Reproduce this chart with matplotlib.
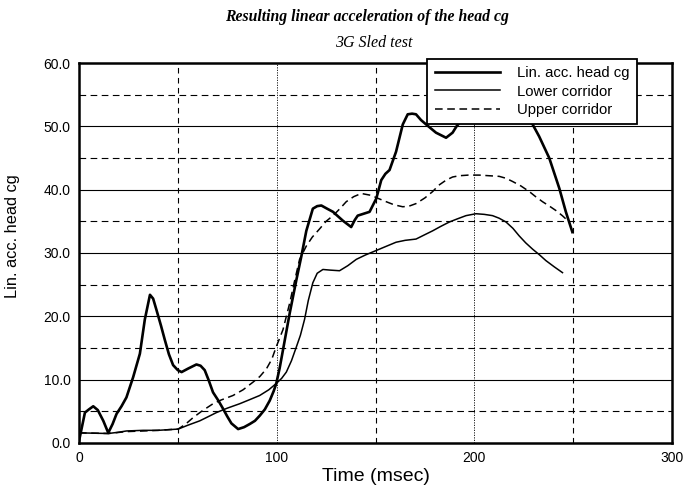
import matplotlib
matplotlib.use("Agg")
import matplotlib.pyplot as plt
from matplotlib.ticker import FormatStrFormatter

# ---- data ----
head_t = [0, 1, 3, 5, 7.2, 9.5, 12.3, 14.8, 17, 19, 21.5, 24, 27.4, 30.8, 33.3,
          35.9, 37.5, 39.2, 41.5, 43.4, 45.5, 47.6, 50, 51.9, 55.2, 59.4, 61.5,
          63.6, 65.5, 67.8, 70.5, 72.9, 75, 77.1, 80.5, 83.5, 86.4, 89, 91.4, 94,
          96.5, 98.5, 99.8, 101.5, 103.2, 106.6, 110, 112.5, 115, 118.3, 120.5,
          122.6, 125.5, 128.5, 133.5, 137.7, 139.5, 141, 144, 147, 150.4, 152.9,
          155, 157.1, 160.4, 163.8, 166.3, 168.5, 170.5, 173, 175.6, 180.6, 185.7,
          189, 191, 195, 200, 210, 220, 226, 229.5, 232.8, 237.9, 243, 246.3, 249.6]
head_v = [0.3, 1.8, 4.8, 5.3, 5.8, 5.2, 3.5, 1.6, 3.0, 4.6, 5.8, 7.2, 10.4, 14.1, 19.5,
          23.4, 22.8, 21.0, 18.5, 16.3, 14.0, 12.3, 11.5, 11.2, 11.75, 12.4, 12.2,
          11.5, 10.0, 8.0, 6.7, 5.4, 4.2, 3.1, 2.2, 2.5, 3.0, 3.5, 4.3, 5.3,
          6.7, 8.2, 9.4, 11.8, 14.7, 20.5, 25.8, 29.5, 33.5, 37.0, 37.4,
          37.5, 37.0, 36.5, 35.1, 34.1, 35.2, 35.9, 36.2, 36.5, 38.6, 41.5,
          42.5, 43.1, 46.0, 50.3, 51.9, 52.0, 51.9, 51.0, 50.3, 49.0, 48.2,
          49.0, 50.0, 51.5, 52.5, 53.0, 52.5, 51.5, 50.3, 48.4, 45.0, 40.2, 36.5, 33.3]

upper_t = [0, 15, 24, 32.5, 40, 50.2, 54, 57.7, 62, 67.8, 72, 77.9, 83, 88, 91.5,
           94.8, 97.5, 99.8, 103.2, 106.6, 109, 111.6, 115, 118, 121.7, 125, 128.5,
           132, 135.2, 139, 142.8, 147.8, 151.5, 155.4, 159.5, 163.8, 167, 170.5,
           175, 178.9, 182, 185.7, 189, 192.4, 197, 202.5, 207.5, 212.6, 216, 219.3,
           223.5, 227.8, 231, 234.5, 238, 241.3, 244.5, 248]
upper_v = [1.6, 1.5, 1.8, 1.9, 2.0, 2.2, 3.0, 4.0, 5.0, 6.2, 6.8, 7.5, 8.4, 9.6, 10.5,
           11.7, 13.2, 15.2, 17.9, 22.1, 25.5, 29.0, 31.1, 32.5, 33.8, 35.0, 35.9,
           37.0, 38.1, 38.9, 39.4, 39.1, 38.6, 38.1, 37.6, 37.3, 37.4, 37.8,
           38.7, 39.7, 40.7, 41.5, 42.0, 42.2, 42.3, 42.3, 42.2, 42.1, 41.8, 41.3,
           40.6, 39.7, 38.9, 38.1, 37.4, 36.7, 35.9, 34.9]

lower_t = [0, 14.8, 20, 24, 32.5, 40, 50.2, 55, 61.1, 65, 69.5, 75, 81.3, 86, 91.4,
           96, 99.8, 102.5, 104.9, 107.5, 110, 112, 114.1, 116, 118.3, 120.5, 123.4,
           127, 131.8, 136, 140.3, 145, 150.4, 155, 160.4, 165, 170.5, 175, 178.9,
           183, 187.4, 191.5, 195.8, 200.8, 205, 209.2, 212.5, 216, 219.5, 222.7,
           226, 229.5, 233, 236.2, 240.5, 244.6]
lower_v = [1.6, 1.5, 1.7, 1.9, 2.0, 2.0, 2.2, 2.8, 3.5, 4.1, 4.8, 5.5, 6.2, 6.8, 7.5,
           8.4, 9.4, 10.2, 11.2, 13.0, 15.2, 17.0, 19.5, 22.5, 25.3, 26.8, 27.4,
           27.3, 27.2, 28.0, 29.0, 29.7, 30.4, 31.0, 31.7, 32.0, 32.2, 32.9, 33.5,
           34.2, 34.9, 35.4, 35.9, 36.2, 36.1, 35.9, 35.5, 34.9, 33.9, 32.7,
           31.6, 30.6, 29.7, 28.8, 27.8, 26.9]

x_ticks = [0, 100, 200, 300]
y_ticks = [0, 10, 20, 30, 40, 50, 60]
y_minor = [5, 15, 25, 35, 45, 55]
x_dashed = [50, 150, 250]
x_dotted = [100, 200]

title = "Resulting linear acceleration of the head cg"
subtitle = "3G Sled test"
xlabel = "Time (msec)"
ylabel = "Lin. acc. head cg"
labels = ["Lin. acc. head cg", "Lower corridor", "Upper corridor"]

# ---- figure ----
plt.rcParams['font.family'] = ['Liberation Sans', 'DejaVu Sans']
fig = plt.figure(figsize=(6.86, 4.90), dpi=100)
ax = fig.add_axes([79/686, 1 - 443/490, (672-79)/686, (443-63)/490])

# grid
for y in y_ticks[1:-1]:
    ax.axhline(y, color='black', lw=0.8, zorder=1)
for y in y_minor:
    ax.axhline(y, color='black', lw=0.8, ls=(0, (6, 4)), zorder=1)
for x in x_dashed:
    ax.axvline(x, color='black', lw=0.8, ls=(0, (5, 4)), zorder=1)
for x in x_dotted:
    ax.axvline(x, color='black', lw=0.6, ls=(0, (1.5, 1.5)), zorder=1)

l1, = ax.plot(head_t, head_v, color='black', lw=1.9, zorder=3, label=labels[0])
l2, = ax.plot(lower_t, lower_v, color='black', lw=1.1, zorder=3, label=labels[1])
l3, = ax.plot(upper_t, upper_v, color='black', lw=1.1, ls=(0, (5, 3)), zorder=3,
              label=labels[2])

ax.set_xlim(0, 300)
ax.set_ylim(0, 60)
ax.set_xticks(x_ticks)
ax.set_yticks(y_ticks)
ax.yaxis.set_major_formatter(FormatStrFormatter('%.1f'))
ax.tick_params(length=0, labelsize=10, pad=6)
for s in ax.spines.values():
    s.set_linewidth(1.8)

ax.set_xlabel(xlabel, fontsize=14, labelpad=2)
ax.set_ylabel(ylabel, fontsize=11.8)
ax.yaxis.set_label_coords(-0.0995, 0.545)

leg = ax.legend(handles=[l1, l2, l3], loc='upper right',
                bbox_to_anchor=(0.941, 1.0105), fontsize=10.7, frameon=True,
                fancybox=False, handlelength=4.4, borderpad=0.5,
                labelspacing=0.28, handletextpad=1.15, borderaxespad=0)
leg.get_frame().set_edgecolor('black')
leg.get_frame().set_linewidth(1.3)
leg.get_frame().set_alpha(1)
leg.set_zorder(5)

fig.text(367/686, 1 - 17/490, title, ha='center', va='center', fontsize=11.3,
         family='Liberation Serif', style='italic', weight='bold')
fig.text(374/686, 1 - 43/490, subtitle, ha='center', va='center', fontsize=11.5,
         family='Liberation Serif', style='italic')

fig.savefig('out.png', dpi=100, facecolor='white')
